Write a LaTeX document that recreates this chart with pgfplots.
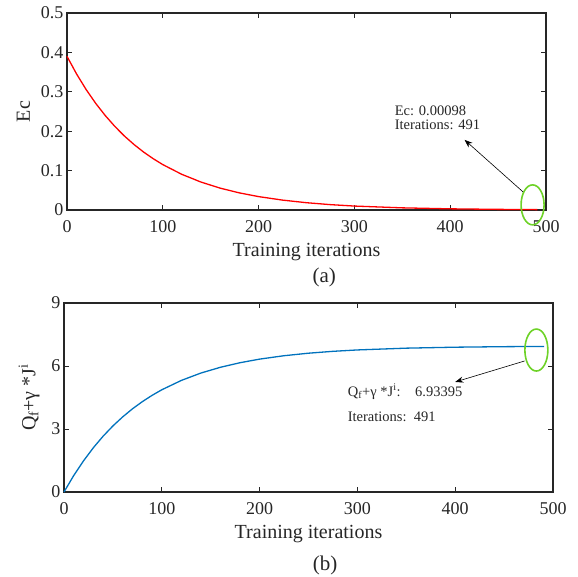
\documentclass[border=0pt]{standalone}
\usepackage{fontspec}
\setmainfont{Liberation Serif}
\usepackage{pgfplots}
\pgfplotsset{compat=1.18}
\usetikzlibrary{arrows.meta}

\definecolor{mblue}{rgb}{0,0.447,0.741}
\definecolor{mgreen}{RGB}{110,210,40}
\definecolor{txt}{RGB}{38,38,38}

\pgfplotsset{
  panel/.style={
    scale only axis,
    clip=false,
    axis line style={line width=1.2pt, black!85},
    tick style={line width=1pt, black!85},
    major tick length=5pt,
    tick align=inside,
    /pgf/number format/assume math mode=true,
    tick label style={font=\fontsize{18}{18}\selectfont, text=txt},
    xticklabel style={yshift=-7pt},
    label style={font=\fontsize{20}{20}\selectfont, text=txt},
    xlabel style={yshift=-4pt},
    xmin=0, xmax=500,
    xtick={0,100,200,300,400,500},
    xlabel={Training iterations},
  }
}

\begin{document}
\begin{tikzpicture}[x=1pt,y=1pt]
\path[use as bounding box] (0,0) rectangle (578,576);

% (a)
\begin{axis}[panel,
  at={(67pt,366pt)}, anchor=south west,
  width=479pt, height=197pt,
  ymin=0, ymax=0.5,
  ytick={0,0.1,0.2,0.3,0.4,0.5},
  yticklabels={0,0.1,0.2,0.3,0.4,0.5},
  ylabel={Ec},
  ylabel style={yshift=4pt},
]
\addplot[red, line width=1.3pt] coordinates {
  (0,0.39) (10,0.3452) (20,0.3056) (30,0.2705) (40,0.2395) (50,0.2120)
  (60,0.1876) (70,0.1661) (80,0.1470) (90,0.1302) (100,0.1152)
  (120,0.0903) (140,0.0708) (160,0.0554) (180,0.0434) (200,0.0340)
  (225,0.0251) (250,0.0185) (275,0.0136) (300,0.0100) (350,0.00546)
  (400,0.00297) (450,0.00161) (491,0.00098)
};
\draw[mgreen, line width=1.6pt] (axis cs:486,0.013) ellipse [x radius=11.5pt, y radius=20pt];
\draw[-{Stealth[length=8pt,width=6pt]}, line width=0.6pt] (axis cs:476,0.046) -- (axis cs:415,0.178);
\node[anchor=base west, font=\fontsize{14.5}{14.5}\selectfont, text=txt, inner sep=0] at (axis cs:342,0.24) {Ec: 0.00098};
\node[anchor=base west, font=\fontsize{14.5}{14.5}\selectfont, text=txt, inner sep=0] at (axis cs:342,0.205) {Iterations: 491};
\node[font=\fontsize{21}{21}\selectfont, text=txt] at (rel axis cs:0.537,-0.34) {(a)};
\end{axis}

% (b)
\begin{axis}[panel,
  at={(64pt,84pt)}, anchor=south west,
  width=489pt, height=189pt,
  ymin=0, ymax=9,
  ytick={0,3,6,9},
  ylabel={Q\textsubscript{f}+γ *J\textsuperscript{i}},
  ylabel style={yshift=5pt},
]
\addplot[mblue, line width=1.3pt] coordinates {
  (0,0) (10,0.789) (20,1.488) (30,2.109) (40,2.658) (50,3.146)
  (60,3.577) (70,3.961) (80,4.300) (90,4.601) (100,4.868)
  (120,5.314) (140,5.665) (160,5.940) (180,6.157) (200,6.328)
  (225,6.490) (250,6.610) (275,6.699) (300,6.765) (350,6.850)
  (400,6.896) (450,6.921) (491,6.933)
};
\draw[mgreen, line width=1.6pt] (axis cs:483,6.76) ellipse [x radius=11.5pt, y radius=21pt];
\draw[-{Stealth[length=8pt,width=6pt]}, line width=0.6pt] (axis cs:471,6.24) -- (axis cs:400,5.24);
\node[anchor=base west, font=\fontsize{14.5}{14.5}\selectfont, text=txt, inner sep=0] at (axis cs:290,4.57) {Q\textsubscript{f}+γ *J\textsuperscript{i}:\quad 6.93395};
\node[anchor=base west, font=\fontsize{14.5}{14.5}\selectfont, text=txt, inner sep=0] at (axis cs:290,3.38) {Iterations:\ \ 491};
\node[font=\fontsize{21}{21}\selectfont, text=txt] at (rel axis cs:0.534,-0.386) {(b)};
\end{axis}
\end{tikzpicture}
\end{document}
